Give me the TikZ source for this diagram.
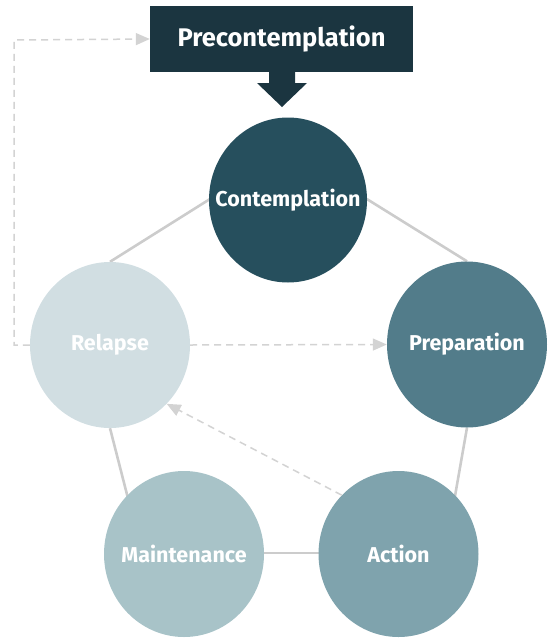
\documentclass[tikz,border=0pt]{standalone}
\usepackage{fontspec}
\setmainfont{Fira Sans}
\usetikzlibrary{shapes.geometric,arrows.meta,backgrounds}
\definecolor{boxc}{HTML}{1B3540}
\definecolor{contc}{HTML}{264F5D}
\definecolor{prepc}{HTML}{527C8A}
\definecolor{actc}{HTML}{7FA3AD}
\definecolor{maintc}{HTML}{A8C3C8}
\definecolor{relc}{HTML}{D1DEE2}
\definecolor{linec}{HTML}{CCCCCC}
\definecolor{dashc}{HTML}{D3D3D3}
\newcommand\stagelbl[1]{\makebox[0pt]{#1}}
\tikzset{
  stage/.style={ellipse, minimum width=160pt, minimum height=166pt, inner sep=0pt,
    text=white, font=\fontsize{21.5}{24}\selectfont\bfseries},
  ring/.style={draw=linec, line width=2.6pt},
  feedback/.style={draw=dashc, line width=1.5pt, dash pattern=on 7pt off 5pt,
    -{Triangle[length=14pt,width=12pt]}},
}
\begin{document}
\begin{tikzpicture}[x=1pt,y=-1pt]
\useasboundingbox (0,0) rectangle (551,641);
% top box
\node[fill=boxc, text=white, minimum width=263pt, minimum height=66pt, inner sep=0pt,
  font=\fontsize{25.5}{28}\selectfont\bfseries] (pre) at (281.5,39) {Precontemplation};
% block arrow
\fill[boxc] (269,71) -- (295,71) -- (295,83) -- (307,83) -- (282,107) -- (257,83) -- (269,83) -- cycle;
% stages
\node[stage, fill=contc, minimum width=158pt, minimum height=165pt] (cont) at (288,200) {\stagelbl{Contemplation}};
\node[stage, fill=prepc] (prep) at (467,344.5) {\stagelbl{Preparation}};
\node[stage, fill=actc] (act) at (398.5,554) {\stagelbl{Action}};
\node[stage, fill=maintc] (maint) at (184,554) {\stagelbl{Maintenance}};
\node[stage, fill=relc] (rel) at (110,345) {\stagelbl{Relapse}};
% hidden ring vertices
\coordinate (vc) at (288,150);
\coordinate (va) at (445,553);
\coordinate (vm) at (142,553);
\coordinate (fb) at (14,345);
\coordinate (ft) at (14,40);
\begin{pgfonlayer}{background}
\draw[ring] (vc) -- (prep.north);
\draw[ring] (prep.south) -- (va);
\draw[ring] (va) -- (vm);
\draw[ring] (vm) -- (rel.south);
\draw[ring] (rel.north) -- (vc);
\end{pgfonlayer}
% dashed feedback arrows
\draw[feedback] (rel.west) -- (fb) -- (ft) -- (pre.west);
\draw[feedback] (rel.east) -- (prep.west);
\draw[feedback] (act.north west) -- (rel.south east);
\end{tikzpicture}
\end{document}
